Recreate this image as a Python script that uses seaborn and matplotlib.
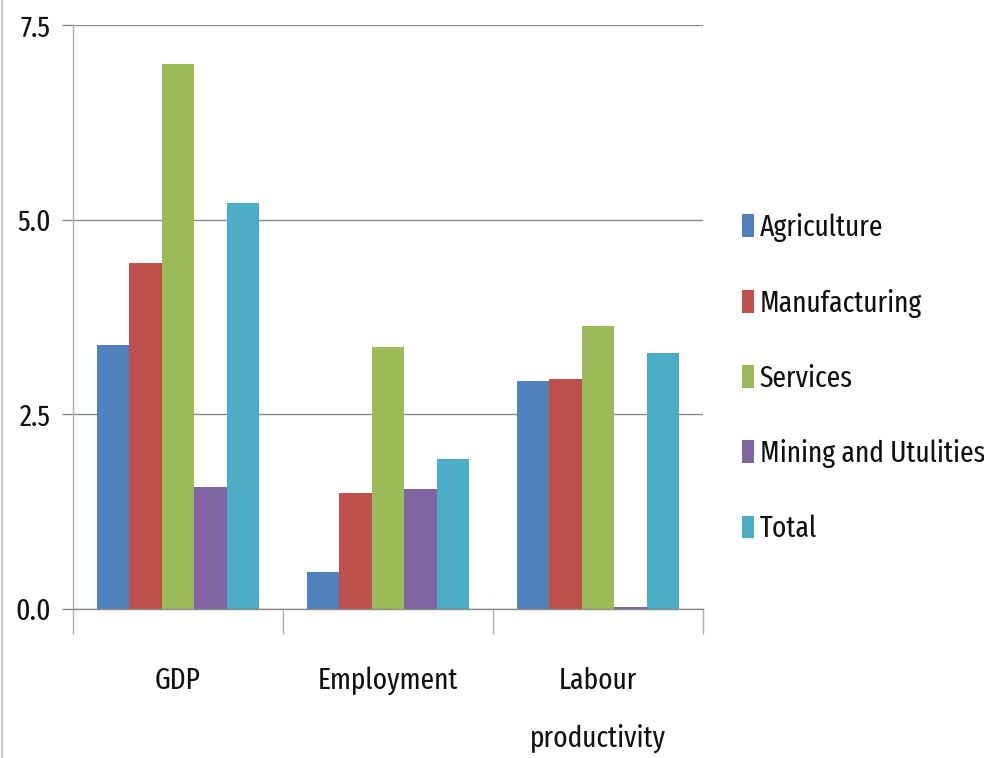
import matplotlib
matplotlib.use("Agg")
import matplotlib.pyplot as plt
import seaborn as sns
import pandas as pd
from matplotlib.patches import Patch
from matplotlib.lines import Line2D

categories = ["GDP", "Employment", "Labour\nproductivity"]
series = ["Agriculture", "Manufacturing", "Services", "Mining and Utulities", "Total"]
agriculture = [3.39, 0.47, 2.93]
manufacturing = [4.44, 1.49, 2.95]
services = [7.00, 3.37, 3.63]
mining = [1.57, 1.54, 0.03]
total = [5.22, 1.93, 3.29]
yticks = [0.0, 2.5, 5.0, 7.5]
colors = ["#4F81BD", "#C0504D", "#9BBB59", "#8064A2", "#4BACC6"]

rows = []
for name, vals in zip(series, [agriculture, manufacturing, services, mining, total]):
    for c, v in zip(categories, vals):
        rows.append({"category": c, "series": name, "value": v})
df = pd.DataFrame(rows)

sns.set_theme(style="white")
plt.rcParams["font.family"] = ["Fira Sans Extra Condensed", "Roboto Condensed", "DejaVu Sans"]
FS = 21.5

fig = plt.figure(figsize=(9.84, 7.58), dpi=100)
ax = fig.add_axes([73/984, (758-609)/758, (703-73)/984, (609-25.3)/758])

sns.barplot(data=df, x="category", y="value", hue="series", order=categories,
            hue_order=series, palette=colors, width=0.77, saturation=1,
            linewidth=0, ax=ax, legend=False)

ax.set_ylim(0, 7.5)
ax.set_xlim(-0.5, 2.5)
ax.set_yticks(yticks)
ax.set_yticklabels([f"{t:.1f}" for t in yticks])
ax.yaxis.grid(True, color="#8a8a8a", linewidth=1.0)
ax.set_axisbelow(True)
ax.set_xlabel("")
ax.set_ylabel("")

for s in ["top", "right"]:
    ax.spines[s].set_visible(False)
ax.spines["left"].set_color("#b0b0b0")
ax.spines["bottom"].set_color("#8a8a8a")
ax.spines["left"].set_linewidth(1.0)
ax.spines["bottom"].set_linewidth(1.0)

ax.set_xticks([-0.5, 0.5, 1.5, 2.5], minor=True)
ax.tick_params(axis="x", which="minor", length=18, color="#b0b0b0", width=1, bottom=True)
ax.tick_params(axis="x", which="major", length=0, pad=41, labelsize=FS, labelcolor="#111111")
ax.tick_params(axis="y", which="major", left=True, length=8, color="#8a8a8a", width=1,
               pad=8, labelsize=FS, labelcolor="#111111")
for lbl in ax.get_xticklabels():
    lbl.set_linespacing(2.25)
    lbl.set_verticalalignment("top")

handles = [Patch(facecolor=c, edgecolor="none") for c in colors]
fig.legend(handles, series, loc="upper left", bbox_to_anchor=(730/984, 1 - 201/758),
           frameon=False, fontsize=FS, handlelength=0.42, handleheight=0.8,
           handletextpad=0.18, labelspacing=1.56, borderaxespad=0, labelcolor="#111111")

# faint page border at the left edge, as in the reference
fig.add_artist(Line2D([1.5/984, 1.5/984], [0, 1], transform=fig.transFigure,
                      color="#c8c8c8", linewidth=1.5))

fig.savefig("out.png", dpi=100, facecolor="white")
